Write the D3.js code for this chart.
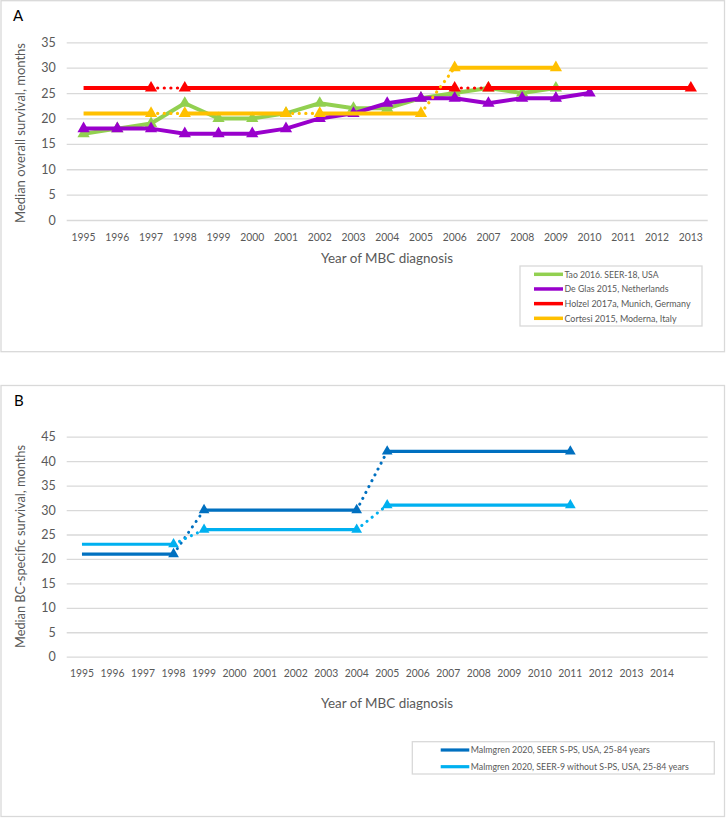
<!DOCTYPE html>
<html><head><meta charset="utf-8">
<script src="https://cdn.jsdelivr.net/npm/d3@7"></script>
<style>
body{margin:0;background:#fff}
svg{display:block}
text{font-family:Lato,"Open Sans",sans-serif;fill:#595959}
</style>
</head><body>
<svg id="c" width="726" height="819"></svg>
<script>
// ---------- Panel A data ----------
const yearsA = ["1995","1996","1997","1998","1999","2000","2001","2002","2003","2004","2005","2006","2007","2008","2009","2010","2011","2012","2013"];
const ticksA = [0,5,10,15,20,25,30,35];

const taoYears   = ["1995","1996","1997","1998","1999","2000","2001","2002","2003","2004","2005","2006","2007","2008","2009"];
const taoValues  = [17,18,19,23,20,20,21,23,22,22,24,25,26,25,26];

const deGlasYears  = ["1995","1996","1997","1998","1999","2000","2001","2002","2003","2004","2005","2006","2007","2008","2009","2010"];
const deGlasValues = [18,18,18,17,17,17,18,20,21,23,24,24,23,24,24,25];

const holzelYears   = ["1995","1997","1998","2006","2007","2013"];
const holzelValues  = [26,26,26,26,26,26];
const holzelMarkers = [false,true,true,true,true,true];
const holzelLinks   = ["solid","dotted","solid","dotted","solid"];

const cortesiYears   = ["1995","1997","1998","2001","2002","2005","2006","2009"];
const cortesiValues  = [21,21,21,21,21,21,30,30];
const cortesiMarkers = [false,true,true,true,true,true,true,true];
const cortesiLinks   = ["solid","dotted","solid","dotted","solid","dotted","solid"];

const legendA = ["Tao 2016. SEER-18, USA","De Glas 2015, Netherlands","Holzel 2017a, Munich, Germany","Cortesi 2015, Moderna, Italy"];

// ---------- Panel B data ----------
const yearsB = ["1995","1996","1997","1998","1999","2000","2001","2002","2003","2004","2005","2006","2007","2008","2009","2010","2011","2012","2013","2014","2015"];
const tickLabelsB = ["1995","1996","1997","1998","1999","2000","2001","2002","2003","2004","2005","2006","2007","2008","2009","2010","2011","2012","2013","2014",""];
const ticksB = [0,5,10,15,20,25,30,35,40,45];

const spsYears   = ["1995","1998","1999","2004","2005","2011"];
const spsValues  = [21,21,30,30,42,42];
const seer9Years  = ["1995","1998","1999","2004","2005","2011"];
const seer9Values = [23,23,26,26,31,31];
const malmMarkers = [false,true,true,true,true,true];
const malmLinks   = ["solid","dotted","solid","dotted","solid"];

const legendB = ["Malmgren 2020, SEER S-PS, USA, 25-84 years","Malmgren 2020, SEER-9 without S-PS, USA, 25-84 years"];

// ---------- drawing ----------
const svg = d3.select("#c");
const GRID = "#d9d9d9";

function allSolid(n){ return Array(n-1).fill("solid"); }
function allMarked(n){ return Array(n).fill(true); }

function drawPanel(cfg){
  const g = svg.append("g");
  g.append("rect").attr("x",cfg.frame[0]).attr("y",cfg.frame[1])
   .attr("width",cfg.frame[2]).attr("height",cfg.frame[3])
   .attr("fill","none").attr("stroke",GRID).attr("stroke-width",1.3);
  g.append("text").attr("x",cfg.letterPos[0]).attr("y",cfg.letterPos[1])
   .style("fill","#000").style("font-size","15px").text(cfg.letter);

  const x = d3.scaleBand().domain(cfg.categories).range([66.7,707.7]).padding(0);
  const cx = d => x(d) + x.bandwidth()/2;
  const y = d3.scaleLinear().domain([0, cfg.yMax]).range(cfg.yRange);

  const ya = g.append("g").attr("transform","translate(66.7,0)")
    .call(d3.axisLeft(y).tickValues(cfg.yTicks).tickSize(-641).tickPadding(11));
  ya.select(".domain").remove();
  ya.selectAll("line").attr("stroke",GRID).attr("stroke-width",1.3);
  ya.selectAll("text").style("font-size","12.5px").style("fill","#595959");

  const xa = g.append("g").attr("transform",`translate(0,${cfg.yRange[0]})`)
    .call(d3.axisBottom(x).tickSize(0).tickPadding(0).tickFormat((d,i)=>cfg.tickLabels[i]));
  xa.select(".domain").remove();
  xa.selectAll("text").attr("y",cfg.xLabelOffset).attr("dy","0.35em")
    .style("font-size","12px").style("fill","#595959")
    .each(function(){ if(this.textContent.length) d3.select(this).attr("textLength",24).attr("lengthAdjust","spacingAndGlyphs"); });

  g.append("text").attr("x",387).attr("y",cfg.xTitleY).attr("dy","0.35em")
   .attr("text-anchor","middle").style("font-size","14px")
   .attr("textLength",132).attr("lengthAdjust","spacingAndGlyphs").text("Year of MBC diagnosis");
  g.append("text").attr("transform",`translate(20,${cfg.yTitleY}) rotate(-90)`)
   .attr("dy","0.35em").attr("text-anchor","middle").style("font-size","14px")
   .attr("textLength",cfg.yTitleLen).attr("lengthAdjust","spacingAndGlyphs").text(cfg.yTitle);

  const tri = d3.symbol().type(d3.symbolTriangle).size(cfg.markerSize);
  cfg.series.forEach(s => {
    const pts = s.years.map((yr,i)=>({x:cx(yr), y:y(s.values[i])}));
    for(let i=0;i<pts.length-1;i++){
      const dotted = s.links[i]==="dotted";
      g.append("line").attr("x1",pts[i].x).attr("y1",pts[i].y)
       .attr("x2",pts[i+1].x).attr("y2",pts[i+1].y)
       .attr("stroke",s.color)
       .attr("stroke-width", dotted ? cfg.dotWidth : cfg.lineWidth)
       .attr("stroke-linecap", dotted ? "round" : "butt")
       .attr("stroke-dasharray", dotted ? "0.1 6.5" : null);
    }
    pts.forEach((p,i)=>{
      if(!s.markers[i]) return;
      g.append("path").attr("d",tri()).attr("transform",`translate(${p.x},${p.y})`)
       .attr("fill",s.color);
    });
  });

  const L = cfg.legend;
  g.append("rect").attr("x",L.box[0]).attr("y",L.box[1]).attr("width",L.box[2]).attr("height",L.box[3])
   .attr("fill","#fff").attr("stroke",GRID).attr("stroke-width",1.3);
  L.labels.forEach((lab,i)=>{
    const yy = L.rowY + i*L.rowStep;
    g.append("line").attr("x1",L.lineX[0]).attr("x2",L.lineX[1]).attr("y1",yy).attr("y2",yy)
     .attr("stroke",L.colors[i]).attr("stroke-width",L.lineWidth);
    g.append("text").attr("x",L.lineX[1]+1.5).attr("y",yy).attr("dy","0.35em")
     .style("font-size",L.fontSize)
     .attr("textLength",L.widths[i]).attr("lengthAdjust","spacingAndGlyphs").text(lab);
  });
}

const colA = ["#92d050","#9900cc","#ff0000","#ffc000"];
drawPanel({
  frame:[1,0.7,723.5,351], letter:"A", letterPos:[13,21],
  categories: yearsA, tickLabels: yearsA, yMax:35, yRange:[220,42.3], yTicks: ticksA,
  xLabelOffset:16.7, xTitleY:258, yTitleY:133, yTitleLen:180, yTitle:"Median overall survival, months",
  markerSize:65, lineWidth:4, dotWidth:3.2,
  series:[
    {years:taoYears, values:taoValues, color:colA[0], markers:allMarked(taoYears.length), links:allSolid(taoYears.length)},
    {years:deGlasYears, values:deGlasValues, color:colA[1], markers:allMarked(deGlasYears.length), links:allSolid(deGlasYears.length)},
    {years:holzelYears, values:holzelValues, color:colA[2], markers:holzelMarkers, links:holzelLinks},
    {years:cortesiYears, values:cortesiValues, color:colA[3], markers:cortesiMarkers, links:cortesiLinks}
  ],
  legend:{box:[520,266,182,60], labels:legendA, colors:colA, rowY:274.3, rowStep:14.67,
          lineX:[534,563], lineWidth:3.5, fontSize:"9.5px", widths:[94,104,126,112]}
});

const colB = ["#0070c0","#00b0f0"];
drawPanel({
  frame:[1,385.5,723.5,431], letter:"B", letterPos:[14,406],
  categories: yearsB, tickLabels: tickLabelsB, yMax:45, yRange:[656.7,436.7], yTicks: ticksB,
  xLabelOffset:16.6, xTitleY:703.3, yTitleY:546.5, yTitleLen:203, yTitle:"Median BC-specific survival, months",
  markerSize:50, lineWidth:3.2, dotWidth:3,
  series:[
    {years:spsYears, values:spsValues, color:colB[0], markers:malmMarkers, links:malmLinks},
    {years:seer9Years, values:seer9Values, color:colB[1], markers:malmMarkers, links:malmLinks}
  ],
  legend:{box:[412.3,741.7,302,32.3], labels:legendB, colors:colB, rowY:750, rowStep:16.7,
          lineX:[440.7,469.3], lineWidth:3.2, fontSize:"9px", widths:[179,218]}
});
</script>
</body></html>
